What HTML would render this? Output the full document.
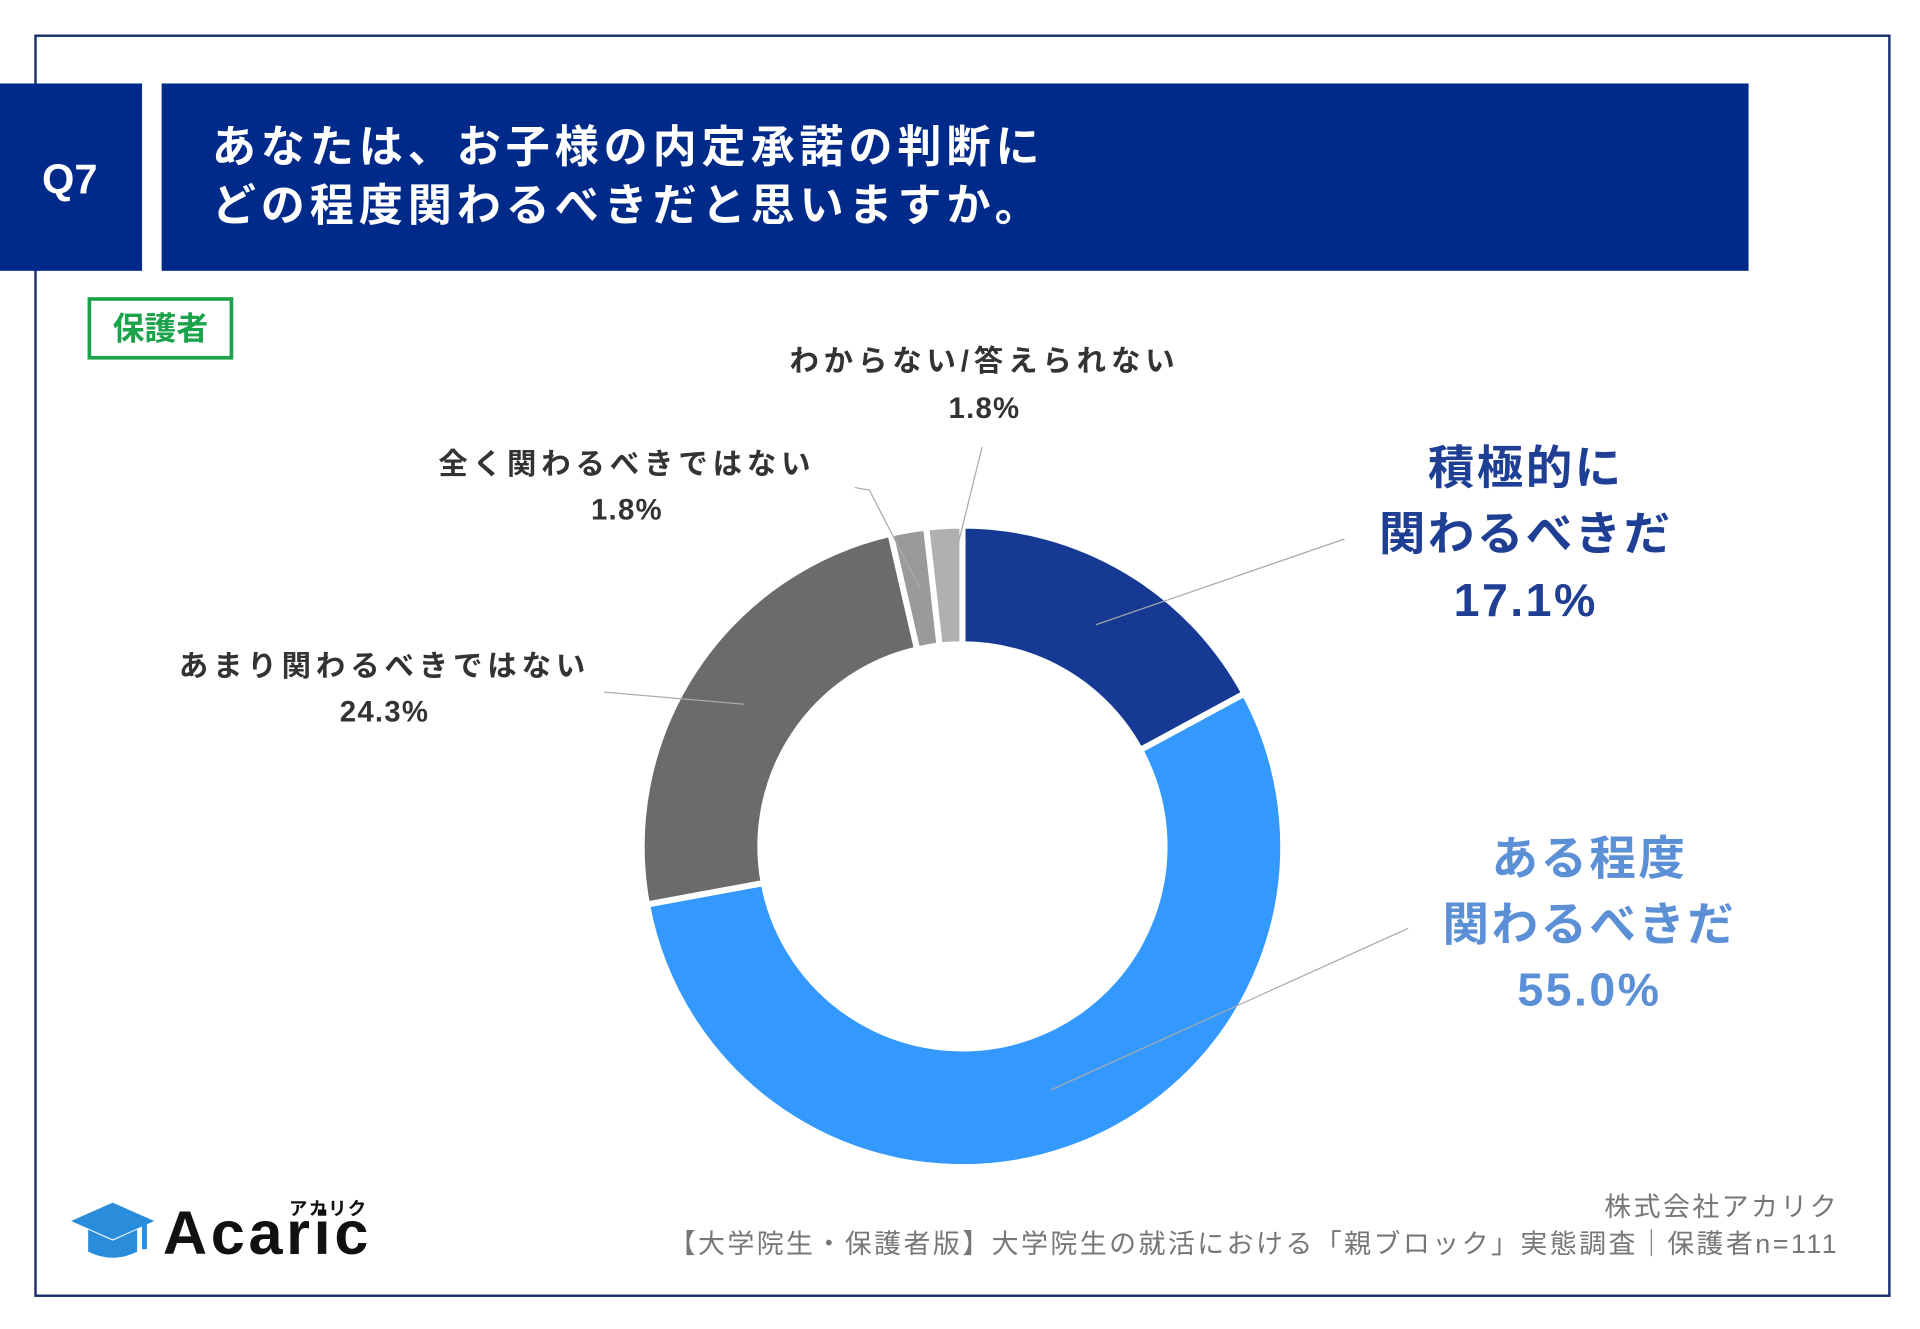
<!DOCTYPE html>
<html><head><meta charset="utf-8"><style>
html,body{margin:0;padding:0;background:#fff;}
svg{display:block;}
text{font-family:"Liberation Sans","Noto Sans CJK JP",sans-serif;}
</style></head><body>
<svg id="s" width="1920" height="1329" viewBox="0 0 1568 1085" xmlns="http://www.w3.org/2000/svg">
<rect x="0" y="0" width="1568" height="1085" fill="#fff"/>
<rect x="29" y="29" width="1514" height="1029" fill="none" stroke="#1b2f6e" stroke-width="2"/>
<rect x="0" y="68" width="116" height="153" fill="#002a8a"/>
<rect x="132" y="68" width="1296" height="153" fill="#002a8a"/>
<text x="57" y="158" fill="#fff" font-size="34" font-weight="bold" text-anchor="middle">Q7</text>
<text x="173" y="132" fill="#fff" font-size="36" font-weight="bold" letter-spacing="4">あなたは、お子様の内定承諾の判断に</text>
<text x="173" y="180" fill="#fff" font-size="36" font-weight="bold" letter-spacing="4">どの程度関わるべきだと思いますか。</text>
<rect x="73" y="244" width="116" height="48" fill="#fff" stroke="#1aa34a" stroke-width="3"/>
<text x="131" y="277" fill="#1aa34a" font-size="26" font-weight="bold" text-anchor="middle">保護者</text>
<g id="donut"></g>
<g stroke="#aaa" stroke-width="1" fill="none">
<line x1="1098" y1="440" x2="895" y2="510"/>
<line x1="1150" y1="758" x2="858" y2="890"/>
<line x1="493" y1="565" x2="608" y2="575"/>
<polyline points="698,398 710,400 752,482"/>
<line x1="802" y1="365" x2="783" y2="442"/>
</g>
<g font-size="24" font-weight="bold" fill="#333" text-anchor="middle" letter-spacing="4">
<text x="804" y="303">わからない/答えられない</text>
<text x="804" y="341" letter-spacing="1">1.8%</text>
<text x="512" y="387">全く関わるべきではない</text>
<text x="512" y="424" letter-spacing="1">1.8%</text>
<text x="314" y="552">あまり関わるべきではない</text>
<text x="314" y="589" letter-spacing="1">24.3%</text>
</g>
<g font-size="38" font-weight="bold" fill="#1e3f94" text-anchor="middle" letter-spacing="2">
<text x="1246" y="395">積極的に</text>
<text x="1246" y="449">関わるべきだ</text>
<text x="1246" y="503">17.1%</text>
</g>
<g font-size="38" font-weight="bold" fill="#5b8fd6" text-anchor="middle" letter-spacing="2">
<text x="1298" y="714">ある程度</text>
<text x="1298" y="768">関わるべきだ</text>
<text x="1298" y="821">55.0%</text>
</g>
<g font-size="22" fill="#777" text-anchor="end" letter-spacing="2">
<text x="1502" y="993">株式会社アカリク</text>
<text x="1502" y="1023">【大学院生・保護者版】大学院生の就活における「親ブロック」実態調査｜保護者n=111</text>
</g>
<g fill="#2a8ddb">
<polygon points="58,997 92,982 126,997 92,1012"/>
<path d="M72,1004 L72,1022 Q92,1032 112,1022 L112,1004 L92,1013 Z"/>
<rect x="116" y="998" width="4" height="22"/>
</g>
<text x="133" y="1024" font-size="50" font-weight="bold" fill="#111" letter-spacing="3">Acaric</text>
<text x="268" y="992" font-size="15" font-weight="bold" fill="#111" text-anchor="middle" letter-spacing="1">アカリク</text>
</svg>
<script>
(function(){
var cx=786,cy=691,R=262,r=165;
var d=[[17.1,"#163a94"],[55.0,"#3399ff"],[24.3,"#6b6b6b"],[1.8,"#9a9a9a"],[1.8,"#b0b0b0"]];
var tot=0;d.forEach(function(x){tot+=x[0];});
var a=0,g=document.getElementById("donut"),ns="http://www.w3.org/2000/svg";
function pt(rad,ang){return [cx+rad*Math.sin(ang),cy-rad*Math.cos(ang)];}
d.forEach(function(x){
var a2=a+x[0]/tot*2*Math.PI,l=(a2-a)>Math.PI?1:0;
var p1=pt(R,a),p2=pt(R,a2),p3=pt(r,a2),p4=pt(r,a);
var p=document.createElementNS(ns,"path");
p.setAttribute("d","M"+p1+" A"+R+","+R+" 0 "+l+" 1 "+p2+" L"+p3+" A"+r+","+r+" 0 "+l+" 0 "+p4+" Z");
p.setAttribute("fill",x[1]);p.setAttribute("stroke","#fff");p.setAttribute("stroke-width","5");
g.appendChild(p);a=a2;});
})();
</script>
</body></html>
